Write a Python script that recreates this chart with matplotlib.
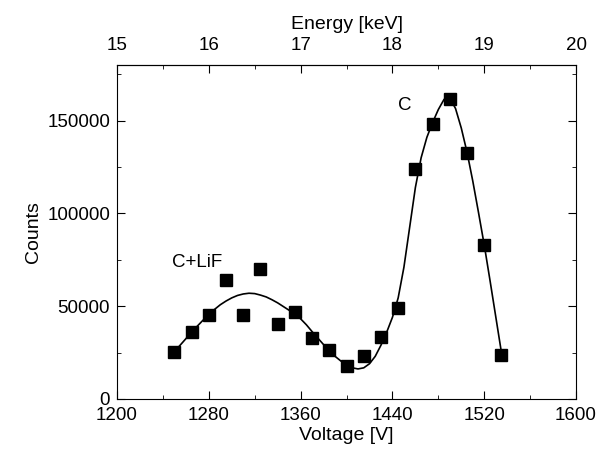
import numpy as np
import matplotlib.pyplot as plt
from matplotlib.ticker import MultipleLocator

plt.rcParams['font.family'] = ['Liberation Sans', 'DejaVu Sans']

# measured points
voltage = [1250, 1265, 1280, 1295, 1310, 1325, 1340, 1355, 1370, 1385,
           1400, 1415, 1430, 1445, 1460, 1475, 1490, 1505, 1520, 1535]
counts = [25300, 36000, 45100, 63900, 45100, 69800, 40300, 46700, 32800, 26300,
          17700, 23100, 33300, 48900, 124200, 148300, 161600, 132700, 83200, 23800]

# fitted curve
fit_v = [1250, 1255, 1260, 1265, 1270, 1275, 1280, 1285, 1290, 1295,
         1300, 1305, 1310, 1315, 1320, 1325, 1330, 1335, 1340, 1345,
         1350, 1355, 1360, 1365, 1370, 1375, 1380, 1385, 1390, 1395,
         1400, 1405, 1410, 1415, 1420, 1425, 1430, 1435, 1440, 1445,
         1450, 1455, 1460, 1465, 1470, 1475, 1480, 1485, 1490, 1495,
         1500, 1505, 1510, 1515, 1520, 1525, 1530, 1535]
fit_c = [25500, 29000, 32500, 36000, 39300, 42500, 45500, 48300, 50800, 52800,
         54500, 55800, 56600, 57000, 56800, 56000, 55000, 53500, 51800, 49800,
         47800, 45800, 43200, 40000, 36300, 32800, 29300, 26000, 23000, 20500,
         18500, 16800, 16200, 16800, 19000, 23000, 29000, 36000, 44000, 54500,
         71000, 92500, 114000, 130000, 141000, 149000, 156000, 161500, 162300, 156500,
         146000, 133000, 117500, 100500, 83000, 64000, 44500, 25000]

fig = plt.figure(figsize=(6.07, 4.51), dpi=100)
ax = fig.add_axes([0.1928, 0.1153, 0.7562, 0.7406])

ax.plot(fit_v, fit_c, color='black', lw=1.2)
ax.plot(voltage, counts, 's', color='black', ms=8)

ax.set_xlim(1200, 1600)
ax.set_ylim(0, 180000)
ax.xaxis.set_major_locator(MultipleLocator(80))
ax.xaxis.set_minor_locator(MultipleLocator(40))
ax.yaxis.set_major_locator(MultipleLocator(50000))
ax.yaxis.set_minor_locator(MultipleLocator(25000))
ax.tick_params(which='both', direction='in', right=True, labelsize=13.5)
ax.tick_params(which='major', length=6)
ax.tick_params(which='minor', length=3)
ax.tick_params(axis='x', pad=6)
ax.tick_params(axis='y', pad=5)
ax.set_xlabel('Voltage [V]', fontsize=14, labelpad=2)
ax.set_ylabel('Counts', fontsize=14, labelpad=4)

top = ax.secondary_xaxis('top', functions=(lambda v: 15 + (v - 1200) / 80,
                                           lambda e: 1200 + (e - 15) * 80))
top.xaxis.set_major_locator(MultipleLocator(1))
top.xaxis.set_minor_locator(MultipleLocator(0.5))
top.tick_params(which='both', direction='in', labelsize=13.5, pad=8)
top.tick_params(which='major', length=6)
top.tick_params(which='minor', length=3)
top.set_xlabel('Energy [keV]', fontsize=14, labelpad=6)

ax.text(1248, 73600, 'C+LiF', fontsize=13.5, va='center', ha='left')
ax.text(1451, 158000, 'C', fontsize=13.5, va='center', ha='center')

fig.savefig('out.png')
